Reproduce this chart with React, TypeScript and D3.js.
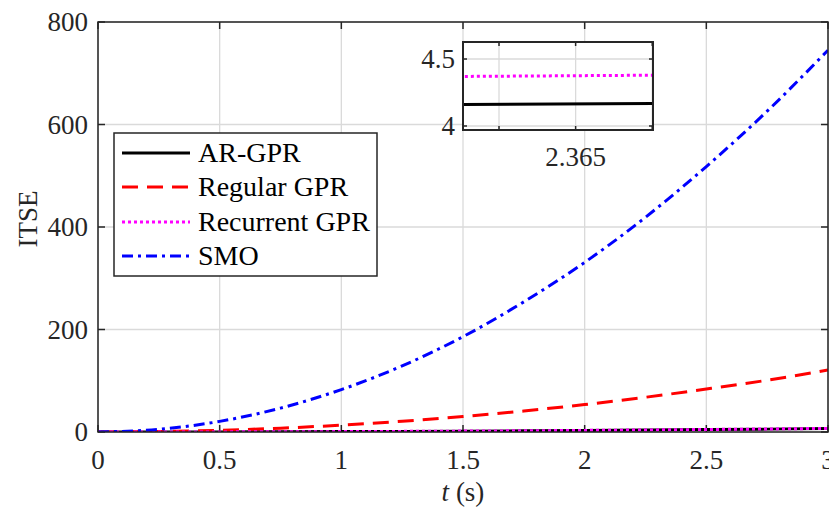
import React from "react";
import * as d3 from "d3";

// time samples (s) and ITSE values
const times = [0, 0.25, 0.5, 0.75, 1, 1.25, 1.5, 1.75, 2, 2.25, 2.5, 2.75, 3];
const arGpr = [0, 0.05, 0.19, 0.42, 0.74, 1.16, 1.67, 2.27, 2.97, 3.76, 4.64, 5.61, 6.68];
const regularGpr = [0, 0.84, 3.35, 7.5, 13.4, 20.9, 30.2, 41, 53.6, 67.8, 83.8, 101, 121];
const recurrentGpr = [0, 0.05, 0.2, 0.44, 0.78, 1.22, 1.76, 2.4, 3.13, 3.96, 4.89, 5.92, 7.04];
const smo = [0, 5.2, 20.7, 46.6, 82.8, 129, 186, 254, 331, 419, 518, 626, 745];

const xTicks = [0, 0.5, 1, 1.5, 2, 2.5, 3];
const yTicks = [0, 200, 400, 600, 800];
const insetXTicks = [2.364, 2.365, 2.366];
const insetXLabels = ["", "2.365", ""];
const insetYTicks = [4, 4.5];

const seriesNames = ["AR-GPR", "Regular GPR", "Recurrent GPR", "SMO"];
const seriesValues = [arGpr, regularGpr, recurrentGpr, smo];
const seriesColors = ["#000000", "#ff0000", "#ff00ff", "#0000ff"];
const seriesDash = [undefined, "16,9", "3,3", "11,5,3,5"];

const FONT = "Liberation Serif";
const AXIS = "#262626";
const GRID = "#dadada";
const FS = 27;

const width = 829;
const height = 509;
const margin = { top: 22, left: 98, bottom: 77, right: 1 };

const x = d3.scaleLinear().domain([0, 3]).range([margin.left, width - margin.right]);
const y = d3.scaleLinear().domain([0, 800]).range([height - margin.bottom, margin.top]);

const ix = d3.scaleLinear().domain([2.36353, 2.36601]).range([463, 653]);
const iy = d3.scaleLinear().domain([3.97, 4.627]).range([130, 42]);

function seriesPaths(xs: any, ys: any) {
  return seriesValues.map((vals) => {
    const pts = times.map((t, j) => [t, vals[j]] as [number, number]);
    return d3
      .line<[number, number]>()
      .x((d) => xs(d[0]))
      .y((d) => ys(d[1]))
      .curve(d3.curveMonotoneX)(pts) as string;
  });
}

function Label(props: any) {
  return <text fontFamily={FONT} fontSize={FS} fill={AXIS} {...props} />;
}

function Frame({ xs, ys, xt, yt, tick, clipId, sw }: any) {
  const [x0, x1] = xs.range();
  const [y0, y1] = ys.range();
  const paths = seriesPaths(xs, ys);
  return (
    <g>
      <rect x={x0} y={y1} width={x1 - x0} height={y0 - y1} fill="white" />
      <clipPath id={clipId}>
        <rect x={x0} y={y1} width={x1 - x0} height={y0 - y1} />
      </clipPath>
      <g stroke={GRID} strokeWidth={1.3}>
        {xt.map((t: number) => (
          <line key={"gx" + t} x1={xs(t)} x2={xs(t)} y1={y0} y2={y1} />
        ))}
        {yt.map((t: number) => (
          <line key={"gy" + t} x1={x0} x2={x1} y1={ys(t)} y2={ys(t)} />
        ))}
      </g>
      <g stroke={AXIS} strokeWidth={1.5}>
        {xt.map((t: number) => (
          <g key={"tx" + t}>
            <line x1={xs(t)} x2={xs(t)} y1={y0} y2={y0 - tick} />
            <line x1={xs(t)} x2={xs(t)} y1={y1} y2={y1 + tick} />
          </g>
        ))}
        {yt.map((t: number) => (
          <g key={"ty" + t}>
            <line x1={x0} x2={x0 + tick} y1={ys(t)} y2={ys(t)} />
            <line x1={x1} x2={x1 - tick} y1={ys(t)} y2={ys(t)} />
          </g>
        ))}
      </g>
      <g clipPath={`url(#${clipId})`}>
        {paths.map((d, i) => (
          <path
            key={i}
            d={d}
            fill="none"
            stroke={seriesColors[i]}
            strokeWidth={3}
            strokeDasharray={seriesDash[i]}
          />
        ))}
      </g>
      <rect
        x={x0}
        y={y1}
        width={x1 - x0}
        height={y0 - y1}
        fill="none"
        stroke={AXIS}
        strokeWidth={sw}
      />
    </g>
  );
}

export default function App() {
  const [x0, x1] = x.range();
  const [y0, y1] = y.range();
  const rowY = [153, 187, 222, 256];
  return (
    <svg width={width} height={height} style={{ position: "absolute", left: 0, top: 0 }}>
      <rect width={width} height={height} fill="white" />
      <Frame xs={x} ys={y} xt={xTicks} yt={yTicks} tick={7} clipId="mainClip" sw={1.5} />

      {xTicks.map((t) => (
        <Label key={"xl" + t} x={x(t)} y={469} textAnchor="middle">
          {t}
        </Label>
      ))}
      {yTicks.map((t) => (
        <Label key={"yl" + t} x={88} y={y(t) + 9} textAnchor="end">
          {t}
        </Label>
      ))}

      <Label x={(x0 + x1) / 2} y={501} textAnchor="middle">
        <tspan fontStyle="italic">t</tspan> (s)
      </Label>
      <Label transform={`translate(37,${(y0 + y1) / 2 - 8}) rotate(-90)`} textAnchor="middle">
        ITSE
      </Label>

      {/* legend */}
      <g>
        <rect x={114} y={133} width={263} height={143} fill="white" stroke={AXIS} strokeWidth={1.5} />
        {seriesNames.map((name, i) => (
          <g key={name}>
            <line
              x1={122}
              x2={190}
              y1={rowY[i]}
              y2={rowY[i]}
              stroke={seriesColors[i]}
              strokeWidth={3}
              strokeDasharray={seriesDash[i]}
            />
            <Label x={198} y={rowY[i] + 9} fill="#000" fontSize={28}>
              {name}
            </Label>
          </g>
        ))}
      </g>

      {/* inset */}
      <Frame xs={ix} ys={iy} xt={insetXTicks} yt={insetYTicks} tick={4} clipId="insetClip" sw={2} />
      {insetXTicks.map((t, i) => (
        <Label key={"ixl" + t} x={ix(t)} y={166} textAnchor="middle">
          {insetXLabels[i]}
        </Label>
      ))}
      {insetYTicks.map((t) => (
        <Label key={"iyl" + t} x={455} y={iy(t) + 9} textAnchor="end">
          {t}
        </Label>
      ))}
    </svg>
  );
}
